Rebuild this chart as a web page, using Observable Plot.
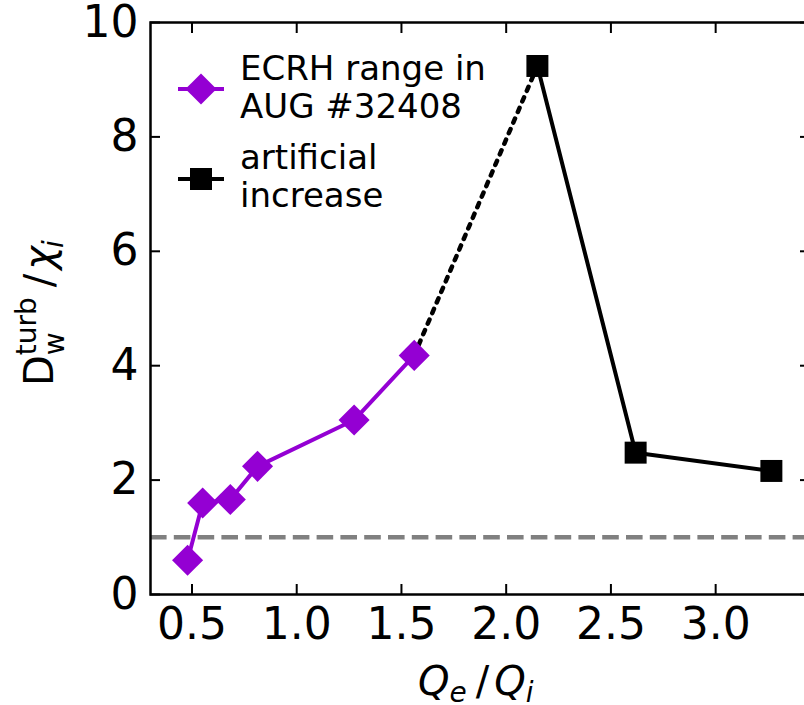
<!DOCTYPE html>
<html>
<head>
<meta charset="utf-8">
<script src="https://cdn.jsdelivr.net/npm/d3@7"></script>
<script src="https://cdn.jsdelivr.net/npm/@observablehq/plot@0.6"></script>
<style>
html, body { margin: 0; padding: 0; background: #fff; overflow: hidden; }
#chart svg { display: block; max-width: none !important; width: 810px !important; height: 705px !important; }
</style>
</head>
<body>
<div id="chart"></div>
<script>
// ---- data ----
const ecrhQ = [0.479, 0.551, 0.683, 0.813, 1.274, 1.561];
const ecrhD = [0.60, 1.60, 1.66, 2.24, 3.05, 4.18];
const artQ = [2.149, 2.618, 3.266];
const artD = [9.24, 2.48, 2.16];
const refLevel = [1];
const xTicks = [0.5, 1.0, 1.5, 2.0, 2.5, 3.0];
const yTicks = [0, 2, 4, 6, 8, 10];
const legendLabels = [["ECRH range in", "AUG #32408"], ["artificial", "increase"]];

const PURPLE = "#9400d3";

const ecrh = ecrhQ.map((q, i) => ({q, d: ecrhD[i]}));
const art = artQ.map((q, i) => ({q, d: artD[i]}));
const bridge = [ecrh[ecrh.length - 1], art[0]];

const plot = Plot.plot({
  width: 810,
  height: 705,
  marginLeft: 150,
  marginRight: 1,
  marginTop: 22,
  marginBottom: 111,
  style: {fontFamily: "DejaVu Sans", fontSize: "44px", color: "black", background: "white", overflow: "visible"},
  x: {domain: [0.302, 3.448]},
  y: {domain: [0, 10]},
  marks: [
    Plot.ruleY(refLevel, {stroke: "#808080", strokeWidth: 4.5, strokeDasharray: "16.6,7.2"}),
    Plot.line(bridge, {x: "q", y: "d", stroke: "black", strokeWidth: 4.5, strokeDasharray: "4.5,7"}),
    Plot.line(ecrh, {x: "q", y: "d", stroke: PURPLE, strokeWidth: 4}),
    Plot.dot(ecrh, {x: "q", y: "d", symbol: "diamond2", r: 14, fill: PURPLE}),
    Plot.line(art, {x: "q", y: "d", stroke: "black", strokeWidth: 4}),
    Plot.dot(art, {x: "q", y: "d", symbol: "square", r: 12.4, fill: "black"}),
    Plot.axisX({ticks: xTicks, tickSize: -10, tickPadding: 23, tickFormat: d3.format(".1f"), label: null, strokeWidth: 2}),
    Plot.axisX({anchor: "top", ticks: xTicks, tickSize: -10, tickFormat: () => "", label: null, strokeWidth: 2}),
    Plot.axisY({ticks: yTicks, tickSize: -10, tickPadding: 22, tickFormat: d3.format("d"), label: null, strokeWidth: 2}),
    Plot.axisY({anchor: "right", ticks: yTicks, tickSize: -10, tickFormat: () => "", label: null, strokeWidth: 2}),
    Plot.frame({stroke: "black", strokeWidth: 2.5})
  ]
});

document.getElementById("chart").appendChild(plot);

const svg = d3.select(plot);

// ---- legend ----
const legendItems = [
  {color: PURPLE, symbol: d3.symbolDiamond2, size: Math.PI * 14 * 14, cy: 89, lines: legendLabels[0], base: 80},
  {color: "black", symbol: d3.symbolSquare, size: Math.PI * 12.4 * 12.4, cy: 179, lines: legendLabels[1], base: 169}
];
const leg = svg.append("g").attr("font-family", "DejaVu Sans").attr("font-size", 34)
  .attr("fill", "black").attr("text-anchor", "start");
legendItems.forEach(it => {
  leg.append("line").attr("x1", 178).attr("x2", 224).attr("y1", it.cy).attr("y2", it.cy)
    .attr("stroke", it.color).attr("stroke-width", 4);
  leg.append("path").attr("d", d3.symbol(it.symbol, it.size)()).attr("transform", `translate(201,${it.cy})`)
    .attr("fill", it.color);
  it.lines.forEach((t, j) => {
    leg.append("text").attr("x", 240).attr("y", it.base + j * 37.5).attr("text-anchor", "start").text(t);
  });
});

// ---- y axis label: D_w^turb / chi_i ----
const yl = svg.append("text")
  .attr("transform", "translate(53,386) rotate(-90)")
  .attr("text-anchor", "start")
  .attr("font-family", "DejaVu Sans").attr("font-size", 40).attr("fill", "black");
yl.append("tspan").text("D");
yl.append("tspan").attr("font-size", 28).attr("dy", 11).text("w");
yl.append("tspan").attr("font-size", 28).attr("dx", -22.9).attr("dy", -28).text("turb");
yl.append("tspan").attr("dx", 10).attr("dy", 17).text("/");
yl.append("tspan").attr("font-style", "italic").attr("dx", 4).text("χ");
yl.append("tspan").attr("font-style", "italic").attr("font-size", 28).attr("dx", -2).attr("dy", 10).text("i");

// ---- x axis label: Q_e / Q_i ----
const xl = svg.append("text")
  .attr("x", 418).attr("y", 695)
  .attr("text-anchor", "start")
  .attr("font-family", "DejaVu Sans").attr("font-size", 40).attr("fill", "black");
xl.append("tspan").attr("font-style", "italic").text("Q");
xl.append("tspan").attr("font-style", "italic").attr("font-size", 28).attr("dy", 7).text("e");
xl.append("tspan").attr("dx", 9).attr("dy", -7).text("/");
xl.append("tspan").attr("font-style", "italic").attr("dx", 5).text("Q");
xl.append("tspan").attr("font-style", "italic").attr("font-size", 28).attr("dy", 7).text("i");
</script>
</body>
</html>
